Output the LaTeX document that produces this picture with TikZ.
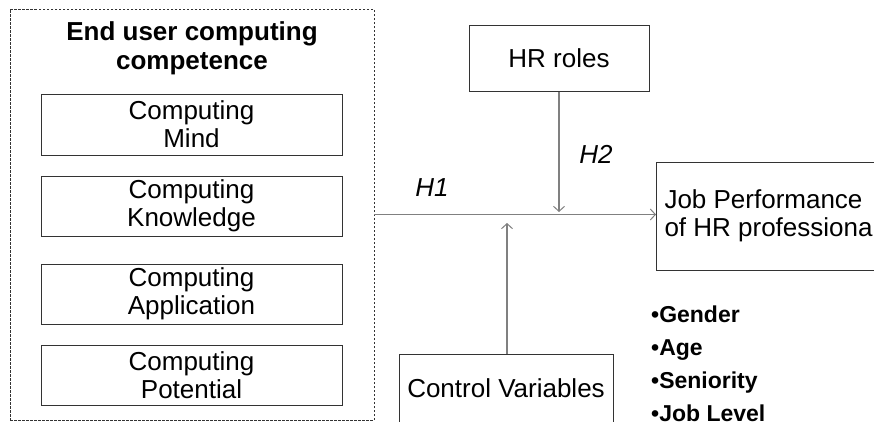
\documentclass[tikz,border=0pt]{standalone}
\usepackage{fontspec}
\setmainfont{Liberation Sans}
\usetikzlibrary{arrows.meta}
\tikzset{
  box/.style={draw=black!80, line width=1pt, inner sep=0pt,
    font=\fontsize{26}{28}\selectfont, align=center},
  link/.style={draw=black!50, line width=1.2pt,
    -{Straight Barb[length=5pt,width=11pt,line width=1pt]}},
  hyp/.style={font=\fontsize{26}{28}\selectfont\itshape},
}
\begin{document}
\begin{tikzpicture}[x=1pt,y=-1pt]
  \clip (0,0) rectangle (874,421);
  \fill[white] (0,0) rectangle (874,421);
  % outer group
  \node[draw=black!80, line width=0.9pt, dash pattern=on 2.5pt off 1.5pt,
    minimum width=364pt, minimum height=411pt, inner sep=0pt] (euc) at (192,214.5) {};
  \node[font=\fontsize{26}{29}\selectfont\bfseries, align=center] (euctitle) at (192,48.5)
    {End user computing\\competence};
  \node[box, minimum width=301pt, minimum height=61pt] (mind) at (191.5,124.5) {Computing\\Mind};
  \node[box, minimum width=301pt, minimum height=60pt] (know) at (191.5,206) {Computing\\Knowledge};
  \node[box, minimum width=301pt, minimum height=60pt] (appl) at (191.5,294) {Computing\\Application};
  \node[box, minimum width=301pt, minimum height=60pt] (pot) at (191.5,375) {Computing\\Potential};
  % right part
  \node[box, minimum width=180pt, minimum height=66pt] (hr) at (559,58) {HR roles};
  \node[box, minimum width=214pt, minimum height=80pt] (ctrl) at (506,394) {};
  \node[font=\fontsize{26}{28}\selectfont] (ctrltext) at (506,388) {Control Variables};
  \node[box, anchor=west, minimum width=260pt, minimum height=108pt, inner xsep=8pt,
    text width=244pt, align=flush left] (jp) at (656,216) {Job Performance\\of HR professionals};
  \coordinate (hrend) at (559,212);
  \coordinate (ctrlend) at (507,223);
  \draw[link] (euc.east) -- (euc.east -| jp.west);
  \draw[link] (hr.south) -- (hrend);
  \draw[link] (ctrl.north -| ctrlend) -- (ctrlend);
  \node[hyp] (h1) at (432,188) {H1};
  \node[hyp] (h2) at (596,154) {H2};
  % control variables list
  \node[font=\fontsize{23}{33}\selectfont\bfseries, align=left, anchor=north west, inner sep=0pt]
    (cvlist) at (651,306) {•Gender\\•Age\\•Seniority\\•Job Level};
\end{tikzpicture}
\end{document}
